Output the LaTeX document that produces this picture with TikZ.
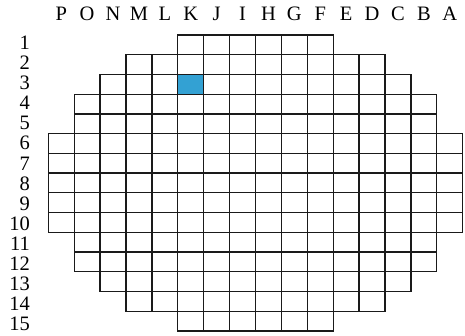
\documentclass[tikz,border=0pt]{standalone}
\usepackage{fontspec}
\setmainfont{Liberation Serif}
\definecolor{diecolor}{HTML}{33A1D3}
\definecolor{gridcolor}{HTML}{1A1A1A}
\begin{document}
\begin{tikzpicture}[x=1pt,y=-1pt,
  cellstyle/.style={draw=gridcolor,line width=1.3pt},
  hilite/.style={fill=diecolor},
  lbl/.style={font=\fontsize{20.5}{20.5}\selectfont,inner sep=0pt}]
\useasboundingbox (0,0) rectangle (465,336);
\def\xo{48.3}\def\yo{35}\def\cw{25.9}\def\ch{19.73}
% highlighted die (row 3, column K)
\fill[hilite] ({\xo+5*\cw},{\yo+2*\ch}) rectangle ({\xo+6*\cw},{\yo+3*\ch});
% rows: row/first/last column index (1 = P)
\foreach \r/\s/\e in {1/6/11,2/4/13,3/3/14,4/2/15,5/2/15,6/1/16,7/1/16,8/1/16,9/1/16,10/1/16,11/2/15,12/2/15,13/3/14,14/4/13,15/6/11}{
  \foreach \c in {\s,...,\e}{
    \draw[cellstyle] ({\xo+(\c-1)*\cw},{\yo+(\r-1)*\ch}) rectangle ({\xo+\c*\cw},{\yo+\r*\ch});
  }
}
% column letters
\foreach \l [count=\i] in {P,O,N,M,L,K,J,I,H,G,F,E,D,C,B,A}{
  \node[lbl,anchor=base] (col\i) at ({\xo+(\i-0.5)*\cw},20.7) {\l};
}
% row numbers
\foreach \k in {1,...,15}{
  \node[lbl,anchor=base east] (row\k) at (30,{49.3+(\k-1)*20.12}) {\k};
}
\end{tikzpicture}
\end{document}
